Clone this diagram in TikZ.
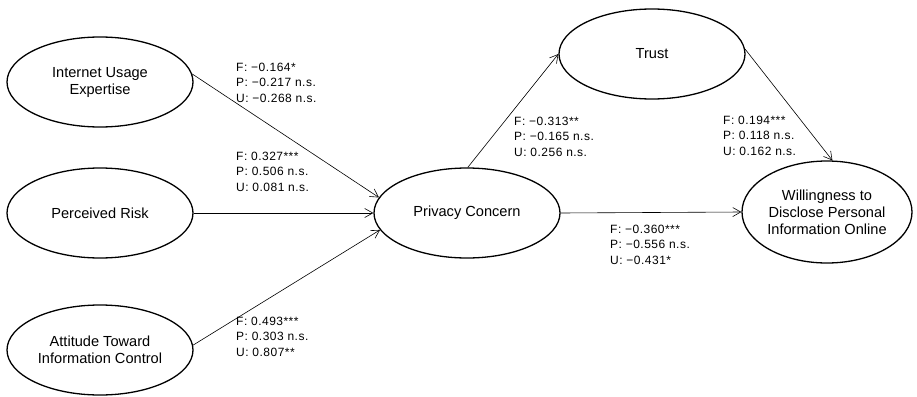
\documentclass[tikz,border=0pt]{standalone}
\usepackage{fontspec}
\setmainfont{Liberation Sans}
\newfontfamily\coeffont[LetterSpace=4]{Liberation Sans}
\usetikzlibrary{shapes.geometric,arrows.meta}
\tikzset{
  construct/.style={ellipse,draw,line width=1.3pt,minimum width=186pt,minimum height=90pt,
    inner sep=0pt,align=center,font=\fontsize{14.6pt}{17pt}\selectfont},
  coef/.style={anchor=north west,inner sep=0pt,align=left,
    font=\coeffont\fontsize{12pt}{15.3pt}\selectfont},
  path/.style={line width=0.6pt,-{Straight Barb[length=8pt,width=9pt,line width=0.6pt]}}
}
\begin{document}
\begin{tikzpicture}[x=1pt,y=-1pt]
\useasboundingbox (0,0) rectangle (917,396);
\node[construct] (iue) at (100,82) {Internet Usage\\Expertise};
\node[construct] (pr) at (100,213) {Perceived Risk};
\node[construct] (atic) at (100,350) {Attitude Toward\\Information Control};
\node[construct] (pc) at (467,213) {Privacy Concern};
\node[construct] (tr) at (652,54) {Trust};
\node[construct,minimum width=170pt,minimum height=102pt] (w) at (827,212) {Willingness to\\Disclose Personal\\Information Online};

\draw[path] (iue.5) -- (pc.170);
\draw[path] (pr.east) -- (pc.west);
\draw[path] (atic.3) -- (pc.191);
\draw[path] (pc.89) -- (tr.180);
\draw[path] (tr.3) -- (w.84);
\draw[path] (pc.east) -- (w.west);

\node[coef] (l1) at (236,63) {F: −0.164*\\P: −0.217 n.s.\\U: −0.268 n.s.};
\node[coef] (l2) at (236,152) {F: 0.327***\\P: 0.506 n.s.\\U: 0.081 n.s.};
\node[coef] (l3) at (236,317) {F: 0.493***\\P: 0.303 n.s.\\U: 0.807**};
\node[coef] (l4) at (514,117) {F: −0.313**\\P: −0.165 n.s.\\U: 0.256 n.s.};
\node[coef] (l5) at (723,116) {F: 0.194***\\P: 0.118 n.s.\\U: 0.162 n.s.};
\node[coef] (l6) at (610,225) {F: −0.360***\\P: −0.556 n.s.\\U: −0.431*};
\end{tikzpicture}
\end{document}
